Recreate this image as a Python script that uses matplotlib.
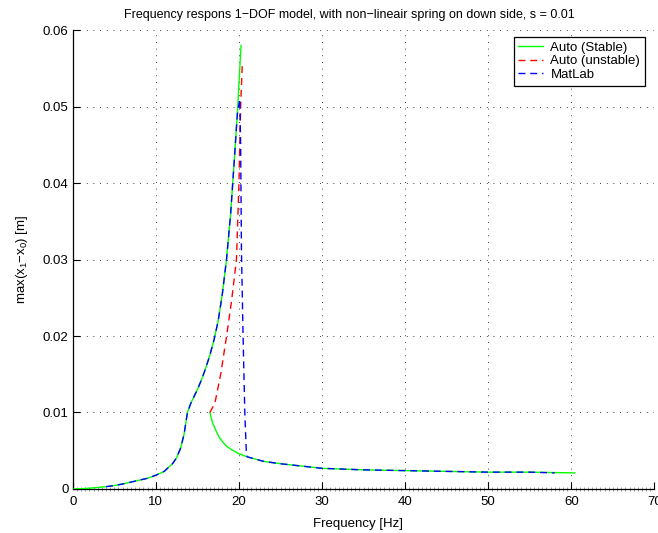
import matplotlib
matplotlib.use("Agg")
import matplotlib.pyplot as plt
from matplotlib.ticker import MultipleLocator

plt.rcParams['font.family'] = ['Liberation Sans', 'DejaVu Sans']
plt.rcParams['mathtext.fontset'] = 'custom'
plt.rcParams['mathtext.rm'] = 'Liberation Sans'
plt.rcParams['mathtext.it'] = 'Liberation Sans:italic'

# ---- data ----
stable_up_f = [0, 1, 2, 3, 4, 5, 6, 7, 8, 9, 10, 11, 12, 12.5, 13, 13.4, 13.8,
               14.2, 14.6, 15, 15.5, 16, 16.5, 17, 17.5, 18, 18.5, 19, 19.5,
               19.8, 20.0, 20.15, 20.25]
stable_up_y = [0, 0.00003, 0.0001, 0.0002, 0.0003, 0.00045, 0.00065, 0.0009,
               0.00115, 0.0014, 0.0018, 0.0023, 0.0033, 0.0041, 0.0054, 0.0072,
               0.0100, 0.0112, 0.0121, 0.0130, 0.0143, 0.0158, 0.0175, 0.0195,
               0.0220, 0.0255, 0.0300, 0.0360, 0.0440, 0.0490, 0.0530, 0.0560,
               0.0580]

stable_low_f = [16.5, 16.8, 17.2, 17.6, 18, 18.5, 19, 19.5, 20, 21, 22, 23, 25,
                27.5, 30, 35, 40, 45, 50, 55, 60.4]
stable_low_y = [0.0100, 0.0087, 0.0077, 0.0068, 0.0062, 0.0056, 0.0052, 0.0049,
                0.0046, 0.0042, 0.0039, 0.0036, 0.0033, 0.0030, 0.0027, 0.0025,
                0.0024, 0.0023, 0.0022, 0.0022, 0.0021]

unstable_f = [16.5, 17.1, 17.8, 18.5, 19.1, 19.7, 20.0, 20.2, 20.4]
unstable_y = [0.0100, 0.0112, 0.0150, 0.0199, 0.0245, 0.0300, 0.0400, 0.0500,
              0.0556]

matlab_f = [4, 5, 6, 7, 8, 9, 10, 11, 12, 12.5, 13, 13.4, 13.8, 14.2, 14.6, 15,
            15.5, 16, 16.5, 17, 17.5, 18, 18.5, 19, 19.5, 19.8, 20.1, 20.2,
            20.3, 20.5, 20.7, 20.9, 21, 22, 23, 25, 27.5, 30, 35, 40, 45, 50,
            55, 58]
matlab_y = [0.0003, 0.00045, 0.00065, 0.0009, 0.00115, 0.0014, 0.0018, 0.0023,
            0.0033, 0.0041, 0.0054, 0.0072, 0.0100, 0.0112, 0.0121, 0.0130,
            0.0143, 0.0158, 0.0175, 0.0195, 0.0220, 0.0255, 0.0300, 0.0360,
            0.0440, 0.0490, 0.0510, 0.0450, 0.0310, 0.0197, 0.0101, 0.0044,
            0.0042, 0.0039, 0.0036, 0.0033, 0.0030, 0.0027, 0.0025, 0.0024,
            0.0023, 0.0022, 0.0022, 0.0021]

x_ticks = [0, 10, 20, 30, 40, 50, 60, 70]
y_ticks = [0, 0.01, 0.02, 0.03, 0.04, 0.05, 0.06]
y_ticklabels = ['0', '0.01', '0.02', '0.03', '0.04', '0.05', '0.06']

# ---- figure ----
fig = plt.figure(figsize=(6.58, 5.33), dpi=100)
ax = fig.add_axes([0.1106, 0.0826, 0.884, 0.861])

fs = 9.5
dash = (0, (5, 3.5))
l1, = ax.plot(stable_up_f, stable_up_y, color='#00ff00', lw=1.0,
              label='Auto (Stable)', zorder=3)
ax.plot(stable_low_f, stable_low_y, color='#00ff00', lw=1.0, zorder=3)
l2, = ax.plot(unstable_f, unstable_y, color='#ff0000', lw=1.0, ls=dash,
              label='Auto (unstable)', zorder=4)
l3, = ax.plot(matlab_f, matlab_y, color='#0000ff', lw=1.0, ls=dash,
              label='MatLab', zorder=5)

ax.set_xlim(0, 70)
ax.set_ylim(0, 0.06)
ax.set_xticks(x_ticks)
ax.set_yticks(y_ticks)
ax.set_yticklabels(y_ticklabels)
ax.xaxis.set_minor_locator(MultipleLocator(0.5))
ax.tick_params(which='major', direction='in', length=5, width=0.8,
               labelsize=fs, colors='black')
ax.tick_params(axis='x', which='major', pad=5)
ax.tick_params(axis='y', which='major', pad=3)
ax.tick_params(which='minor', axis='x', direction='inout', length=2.5,
               width=0.4, color='#555555')
ax.tick_params(which='minor', axis='y', length=0)

for s in ['top', 'right']:
    ax.spines[s].set_visible(False)
for s in ['left', 'bottom']:
    ax.spines[s].set_linewidth(0.9)

ax.grid(True, which='major', color='black', ls=(0, (1, 7)), lw=0.6)
ax.set_axisbelow(True)

ax.set_xlabel('Frequency [Hz]', fontsize=fs, labelpad=7, x=0.491)
ax.set_ylabel('max(x$_1$\u2212x$_0$) [m]', fontsize=fs, labelpad=9)
ax.set_title('Frequency respons 1\u2212DOF model, with non\u2212lineair spring '
             'on down side, s = 0.01', fontsize=9, pad=9, x=0.476)

leg = ax.legend(handles=[l1, l2, l3], loc='upper right',
                bbox_to_anchor=(0.9835, 0.9847), borderaxespad=0,
                fontsize=fs, frameon=True, fancybox=False, edgecolor='black',
                framealpha=1, handlelength=1.9, handletextpad=0.55,
                borderpad=0.35, labelspacing=0.1)
leg.get_frame().set_linewidth(0.9)

fig.savefig('out.png', dpi=100)
